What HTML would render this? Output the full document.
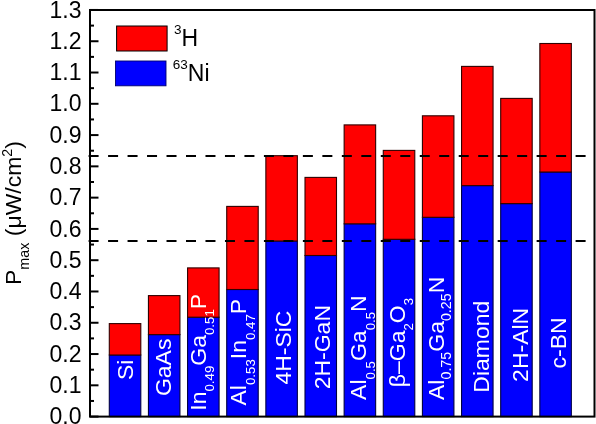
<!DOCTYPE html><html><head><meta charset="utf-8"><style>html,body{margin:0;padding:0;background:#fff;}svg{display:block;}text{font-family:"Liberation Sans", Arial, sans-serif;}</style></head><body>
<svg width="596" height="424" viewBox="0 0 596 424">
<rect x="0" y="0" width="596" height="424" fill="#fff"/>
<rect x="109.30" y="355.00" width="31.50" height="61.60" fill="#0000ff" stroke="#000040" stroke-width="1.1"/>
<rect x="109.30" y="323.60" width="31.50" height="31.40" fill="#ff0000" stroke="#300000" stroke-width="1.1"/>
<rect x="148.44" y="334.60" width="31.50" height="82.00" fill="#0000ff" stroke="#000040" stroke-width="1.1"/>
<rect x="148.44" y="295.60" width="31.50" height="39.00" fill="#ff0000" stroke="#300000" stroke-width="1.1"/>
<rect x="187.58" y="317.20" width="31.50" height="99.40" fill="#0000ff" stroke="#000040" stroke-width="1.1"/>
<rect x="187.58" y="267.90" width="31.50" height="49.30" fill="#ff0000" stroke="#300000" stroke-width="1.1"/>
<rect x="226.72" y="289.50" width="31.50" height="127.10" fill="#0000ff" stroke="#000040" stroke-width="1.1"/>
<rect x="226.72" y="206.40" width="31.50" height="83.10" fill="#ff0000" stroke="#300000" stroke-width="1.1"/>
<rect x="265.86" y="241.00" width="31.50" height="175.60" fill="#0000ff" stroke="#000040" stroke-width="1.1"/>
<rect x="265.86" y="155.70" width="31.50" height="85.30" fill="#ff0000" stroke="#300000" stroke-width="1.1"/>
<rect x="305.00" y="255.50" width="31.50" height="161.10" fill="#0000ff" stroke="#000040" stroke-width="1.1"/>
<rect x="305.00" y="177.40" width="31.50" height="78.10" fill="#ff0000" stroke="#300000" stroke-width="1.1"/>
<rect x="344.14" y="223.80" width="31.50" height="192.80" fill="#0000ff" stroke="#000040" stroke-width="1.1"/>
<rect x="344.14" y="124.90" width="31.50" height="98.90" fill="#ff0000" stroke="#300000" stroke-width="1.1"/>
<rect x="383.28" y="239.30" width="31.50" height="177.30" fill="#0000ff" stroke="#000040" stroke-width="1.1"/>
<rect x="383.28" y="150.40" width="31.50" height="88.90" fill="#ff0000" stroke="#300000" stroke-width="1.1"/>
<rect x="422.42" y="217.30" width="31.50" height="199.30" fill="#0000ff" stroke="#000040" stroke-width="1.1"/>
<rect x="422.42" y="115.80" width="31.50" height="101.50" fill="#ff0000" stroke="#300000" stroke-width="1.1"/>
<rect x="461.56" y="185.60" width="31.50" height="231.00" fill="#0000ff" stroke="#000040" stroke-width="1.1"/>
<rect x="461.56" y="66.40" width="31.50" height="119.20" fill="#ff0000" stroke="#300000" stroke-width="1.1"/>
<rect x="500.70" y="203.60" width="31.50" height="213.00" fill="#0000ff" stroke="#000040" stroke-width="1.1"/>
<rect x="500.70" y="98.40" width="31.50" height="105.20" fill="#ff0000" stroke="#300000" stroke-width="1.1"/>
<rect x="539.84" y="172.00" width="31.50" height="244.60" fill="#0000ff" stroke="#000040" stroke-width="1.1"/>
<rect x="539.84" y="43.50" width="31.50" height="128.50" fill="#ff0000" stroke="#300000" stroke-width="1.1"/>
<line x1="88.6" y1="156.00" x2="592" y2="156.00" stroke="#000" stroke-width="2.2" stroke-dasharray="10 9.48"/>
<line x1="88.6" y1="241.00" x2="592" y2="241.00" stroke="#000" stroke-width="2.2" stroke-dasharray="10 9.48"/>
<rect x="90" y="10" width="504.5" height="406.60" fill="none" stroke="#000" stroke-width="2"/>
<line x1="90" y1="416.60" x2="98.5" y2="416.60" stroke="#000" stroke-width="2"/>
<line x1="90" y1="400.96" x2="94" y2="400.96" stroke="#000" stroke-width="2"/>
<line x1="90" y1="385.32" x2="98.5" y2="385.32" stroke="#000" stroke-width="2"/>
<line x1="90" y1="369.68" x2="94" y2="369.68" stroke="#000" stroke-width="2"/>
<line x1="90" y1="354.04" x2="98.5" y2="354.04" stroke="#000" stroke-width="2"/>
<line x1="90" y1="338.40" x2="94" y2="338.40" stroke="#000" stroke-width="2"/>
<line x1="90" y1="322.76" x2="98.5" y2="322.76" stroke="#000" stroke-width="2"/>
<line x1="90" y1="307.12" x2="94" y2="307.12" stroke="#000" stroke-width="2"/>
<line x1="90" y1="291.48" x2="98.5" y2="291.48" stroke="#000" stroke-width="2"/>
<line x1="90" y1="275.84" x2="94" y2="275.84" stroke="#000" stroke-width="2"/>
<line x1="90" y1="260.20" x2="98.5" y2="260.20" stroke="#000" stroke-width="2"/>
<line x1="90" y1="244.56" x2="94" y2="244.56" stroke="#000" stroke-width="2"/>
<line x1="90" y1="228.92" x2="98.5" y2="228.92" stroke="#000" stroke-width="2"/>
<line x1="90" y1="213.28" x2="94" y2="213.28" stroke="#000" stroke-width="2"/>
<line x1="90" y1="197.64" x2="98.5" y2="197.64" stroke="#000" stroke-width="2"/>
<line x1="90" y1="182.00" x2="94" y2="182.00" stroke="#000" stroke-width="2"/>
<line x1="90" y1="166.36" x2="98.5" y2="166.36" stroke="#000" stroke-width="2"/>
<line x1="90" y1="150.72" x2="94" y2="150.72" stroke="#000" stroke-width="2"/>
<line x1="90" y1="135.08" x2="98.5" y2="135.08" stroke="#000" stroke-width="2"/>
<line x1="90" y1="119.44" x2="94" y2="119.44" stroke="#000" stroke-width="2"/>
<line x1="90" y1="103.80" x2="98.5" y2="103.80" stroke="#000" stroke-width="2"/>
<line x1="90" y1="88.16" x2="94" y2="88.16" stroke="#000" stroke-width="2"/>
<line x1="90" y1="72.52" x2="98.5" y2="72.52" stroke="#000" stroke-width="2"/>
<line x1="90" y1="56.88" x2="94" y2="56.88" stroke="#000" stroke-width="2"/>
<line x1="90" y1="41.24" x2="98.5" y2="41.24" stroke="#000" stroke-width="2"/>
<line x1="90" y1="25.60" x2="94" y2="25.60" stroke="#000" stroke-width="2"/>
<line x1="90" y1="9.96" x2="98.5" y2="9.96" stroke="#000" stroke-width="2"/>
<text x="81.5" y="424.20" font-size="23" text-anchor="end" fill="#000">0.0</text>
<text x="81.5" y="392.92" font-size="23" text-anchor="end" fill="#000">0.1</text>
<text x="81.5" y="361.64" font-size="23" text-anchor="end" fill="#000">0.2</text>
<text x="81.5" y="330.36" font-size="23" text-anchor="end" fill="#000">0.3</text>
<text x="81.5" y="299.08" font-size="23" text-anchor="end" fill="#000">0.4</text>
<text x="81.5" y="267.80" font-size="23" text-anchor="end" fill="#000">0.5</text>
<text x="81.5" y="236.52" font-size="23" text-anchor="end" fill="#000">0.6</text>
<text x="81.5" y="205.24" font-size="23" text-anchor="end" fill="#000">0.7</text>
<text x="81.5" y="173.96" font-size="23" text-anchor="end" fill="#000">0.8</text>
<text x="81.5" y="142.68" font-size="23" text-anchor="end" fill="#000">0.9</text>
<text x="81.5" y="111.40" font-size="23" text-anchor="end" fill="#000">1.0</text>
<text x="81.5" y="80.12" font-size="23" text-anchor="end" fill="#000">1.1</text>
<text x="81.5" y="48.84" font-size="23" text-anchor="end" fill="#000">1.2</text>
<text x="81.5" y="17.56" font-size="23" text-anchor="end" fill="#000">1.3</text>
<text transform="translate(21,285) rotate(-90) scale(1.022,1)" font-size="22.5" fill="#000">P<tspan font-size="14" dy="8.4">max</tspan><tspan dy="-8.4"> (</tspan>&#956;W/cm<tspan font-size="14" dy="-9">2</tspan><tspan dy="9">)</tspan></text>
<rect x="116.6" y="26" width="50.5" height="25" fill="#ff0000" stroke="#000" stroke-width="1"/>
<rect x="115.5" y="61" width="50.5" height="24.8" fill="#0000ff" stroke="#000070" stroke-width="0.9"/>
<text x="174" y="45.6" font-size="23" fill="#000"><tspan font-size="13.5" dy="-11.5">3</tspan><tspan dy="11.5">H</tspan></text>
<text x="172.8" y="80.6" font-size="23" fill="#000"><tspan font-size="13.5" dy="-11.5">63</tspan><tspan dy="11.5">Ni</tspan></text>
<text transform="translate(132.50,380.00) rotate(-90) scale(1.022,1)" font-size="22.5" fill="#fff">Si</text>
<text transform="translate(171.10,396.10) rotate(-90) scale(1.022,1)" font-size="22.5" fill="#fff">GaAs</text>
<text transform="translate(205.80,410.70) rotate(-90) scale(1.022,1)" font-size="22.5" fill="#fff">In<tspan font-size="13" dy="8.5">0.49</tspan><tspan dy="-8.5">Ga</tspan><tspan font-size="13" dy="8.5">0.51</tspan><tspan dy="-8.5">P</tspan></text>
<text transform="translate(246.10,405.50) rotate(-90) scale(1.022,1)" font-size="22.5" fill="#fff">Al<tspan font-size="13" dy="8.5">0.53</tspan><tspan dy="-8.5">In</tspan><tspan font-size="13" dy="8.5">0.47</tspan><tspan dy="-8.5">P</tspan></text>
<text transform="translate(290.70,384.60) rotate(-90) scale(1.022,1)" font-size="22.5" fill="#fff">4H-SiC</text>
<text transform="translate(329.80,389.30) rotate(-90) scale(1.022,1)" font-size="22.5" fill="#fff">2H-GaN</text>
<text transform="translate(366.00,399.90) rotate(-90) scale(1.022,1)" font-size="22.5" fill="#fff">Al<tspan font-size="13" dy="8.5">0.5</tspan><tspan dy="-8.5">Ga</tspan><tspan font-size="13" dy="8.5">0.5</tspan><tspan dy="-8.5">N</tspan></text>
<text transform="translate(404.80,387.20) rotate(-90) scale(1.022,1)" font-size="22.5" fill="#fff">&#946;&#8211;Ga<tspan font-size="13" dy="8.5">2</tspan><tspan dy="-8.5">O</tspan><tspan font-size="13" dy="8.5">3</tspan></text>
<text transform="translate(444.00,400.00) rotate(-90) scale(1.022,1)" font-size="22.5" fill="#fff">Al<tspan font-size="14" dy="6.5">0.75</tspan><tspan dy="-6.5">Ga</tspan><tspan font-size="14" dy="6.5">0.25</tspan><tspan dy="-6.5">N</tspan></text>
<text transform="translate(488.90,392.70) rotate(-90) scale(1.022,1)" font-size="22.5" fill="#fff">Diamond</text>
<text transform="translate(528.00,381.90) rotate(-90) scale(1.022,1)" font-size="22.5" fill="#fff">2H-AlN</text>
<text transform="translate(566.00,368.40) rotate(-90) scale(1.022,1)" font-size="22.5" fill="#fff">c-BN</text>
</svg></body></html>
